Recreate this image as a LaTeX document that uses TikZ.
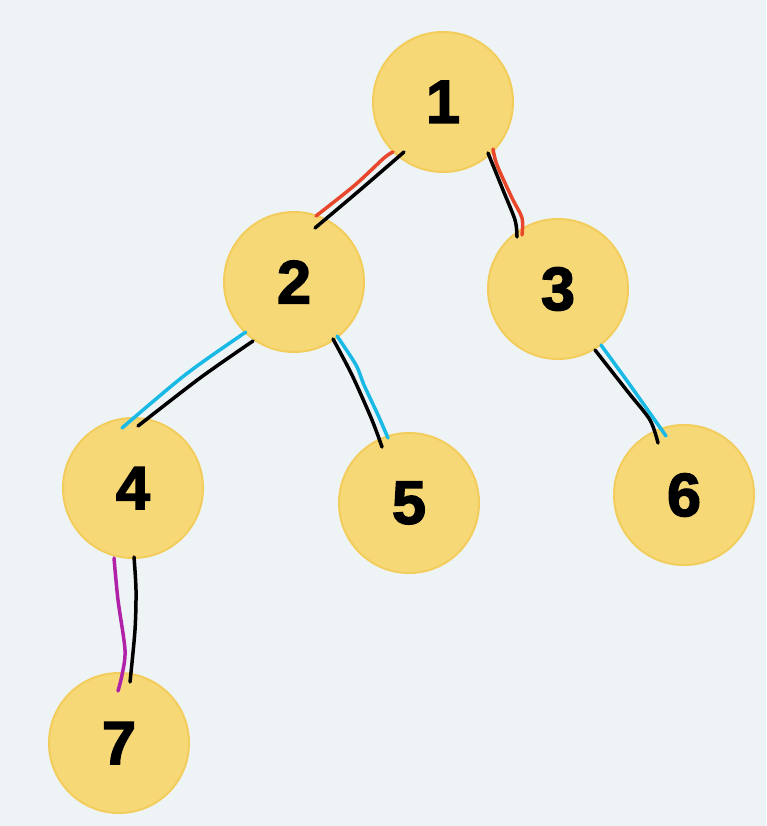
\documentclass[tikz,border=0pt]{standalone}
\usepackage{fontspec}
\newfontfamily\numfont{Liberation Sans Bold}[FakeBold=2.5]
\usetikzlibrary{calc}
\definecolor{bgc}{HTML}{EEF3F6}
\definecolor{nodefill}{HTML}{F7D877}
\definecolor{nodeborder}{HTML}{F3CD5C}
\definecolor{redline}{HTML}{E8472C}
\definecolor{cyanline}{HTML}{19B9E6}
\definecolor{magline}{HTML}{B023A8}
\tikzset{
  treenode/.style={circle, minimum size=140pt, inner sep=0pt, fill=nodefill, draw=nodeborder, line width=2pt, font=\numfont\fontsize{61}{61}\selectfont},
  ink/.style={line width=3.5pt, line cap=round, line join=round},
}
\begin{document}
\begin{tikzpicture}[x=1pt,y=-1pt]
\fill[bgc] (0,0) rectangle (766,826);
\useasboundingbox (0,0) rectangle (766,826);
\node[treenode] (n1) at (443,102) {1};
\node[treenode] (n2) at (294,282) {2};
\node[treenode] (n3) at (558,289) {3};
\node[treenode] (n4) at (133,488) {4};
\node[treenode] (n5) at (409,503) {5};
\node[treenode] (n6) at (684,495) {6};
\node[treenode] (n7) at (119,743) {7};
% 1-2
\draw[ink,redline] plot[smooth] coordinates {($(n1)+(-50,50)$) ($(n1)+(-59,56)$) ($(n1)+(-88,83)$) ($(n2)+(22,-66)$)};
\draw[ink,black] plot[smooth] coordinates {($(n1)+(-39,50)$) ($(n1)+(-83,88)$) ($(n2)+(21,-54)$)};
% 1-3
\draw[ink,redline] plot[smooth] coordinates {($(n1)+(50,47)$) ($(n1)+(54,63)$) ($(n1)+(69,96)$) ($(n3)+(-36,-71)$) ($(n3)+(-36,-54)$)};
\draw[ink,black] plot[smooth] coordinates {($(n1)+(45,51)$) ($(n1)+(60,88)$) ($(n3)+(-43,-69)$) ($(n3)+(-41,-52)$)};
% 2-4
\draw[ink,cyanline] plot[smooth] coordinates {($(n2)+(-49,51)$) ($(n2)+(-54,54)$) ($(n2)+(-109,93)$) ($(n4)+(-11,-60)$)};
\draw[ink,black] plot[smooth] coordinates {($(n2)+(-41,59)$) ($(n2)+(-94,96)$) ($(n4)+(5,-62)$)};
% 2-5
\draw[ink,cyanline] plot[smooth] coordinates {($(n2)+(43,54)$) ($(n2)+(62,83)$) ($(n2)+(70,103)$) ($(n5)+(-31,-88)$) ($(n5)+(-21,-65)$)};
\draw[ink,black] plot[smooth] coordinates {($(n2)+(39,57)$) ($(n2)+(58,93)$) ($(n5)+(-37,-83)$) ($(n5)+(-27,-56)$)};
% 3-6
\draw[ink,cyanline] plot[smooth] coordinates {($(n3)+(43,56)$) ($(n3)+(72,96)$) ($(n6)+(-18,-59)$)};
\draw[ink,black] plot[smooth] coordinates {($(n3)+(37,61)$) ($(n3)+(70,103)$) ($(n6)+(-34,-75)$) ($(n6)+(-26,-52)$)};
% 4-7
\draw[ink,magline] plot[smooth] coordinates {($(n4)+(-19,70)$) ($(n4)+(-15,112)$) ($(n4)+(-8,162)$) ($(n7)+(3,-68)$) ($(n7)+(-1,-52)$)};
\draw[ink,black] plot[smooth] coordinates {($(n4)+(1,69)$) ($(n4)+(3,102)$) ($(n4)+(2,142)$) ($(n7)+(11,-61)$)};
\end{tikzpicture}
\end{document}
